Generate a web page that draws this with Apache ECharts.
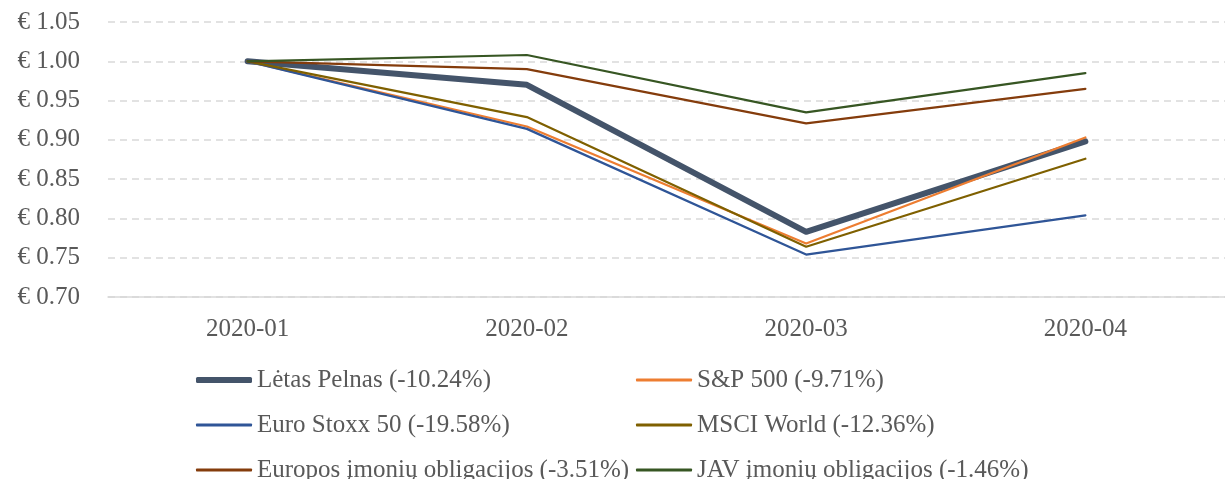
<!DOCTYPE html>
<html>
<head>
<meta charset="utf-8">
<style>
  html, body { margin: 0; padding: 0; background: #fff; }
  #chart { width: 1225px; height: 479px; }
</style>
<script src="https://cdn.jsdelivr.net/npm/echarts@6/dist/echarts.min.js"></script>
</head>
<body>
<div id="chart"></div>
<script>
// categories (months)
const months = ['2020-01', '2020-02', '2020-03', '2020-04']

// portfolio value of 1 € invested
const letasPelnas = [1.000, 0.970, 0.783, 0.898]
const sp500 = [1.000, 0.917, 0.768, 0.903]
const euroStoxx = [1.000, 0.914, 0.754, 0.804]
const msciWorld = [1.000, 0.929, 0.764, 0.876]
const europosObl = [1.000, 0.990, 0.921, 0.965]
const javObl = [1.000, 1.008, 0.935, 0.985]

const seriesNames = [
  'Lėtas Pelnas (-10.24%)',
  'S&P 500 (-9.71%)',
  'Euro Stoxx 50 (-19.58%)',
  'MSCI World (-12.36%)',
  'Europos įmonių obligacijos (-3.51%)',
  'JAV įmonių obligacijos (-1.46%)'
]

const font = '"Liberation Serif", "DejaVu Serif", serif'
const textColor = '#595959'

const mkLine = (name, data, color, width) => ({
  name: name,
  type: 'line',
  data: data,
  symbol: 'none',
  color: color,
  itemStyle: {color: color},
  lineStyle: {color: color, width: width, cap: 'round', join: 'round'},
  emphasis: {disabled: true}
})

// one legend per item so the two columns line up like the original
const mkLegend = (name, left, top, thick) => ({
  left: left,
  top: top,
  padding: 0,
  icon: 'roundRect',
  itemWidth: 56,
  itemHeight: thick,
  selectedMode: false,
  data: [name],
  textStyle: {fontFamily: font, fontSize: 25, color: textColor, lineHeight: 25}
})

const chart = echarts.init(document.getElementById('chart'))
chart.setOption({
  animation: false,
  textStyle: {fontFamily: font},
  grid: {left: 108, top: 22, width: 1128, bottom: 182, containLabel: false},
  legend: [
    mkLegend(seriesNames[0], 196, 367.5, 6),
    mkLegend(seriesNames[1], 636, 367.5, 3),
    mkLegend(seriesNames[2], 196, 412.5, 3),
    mkLegend(seriesNames[3], 636, 412.5, 3),
    mkLegend(seriesNames[4], 196, 457.5, 3),
    mkLegend(seriesNames[5], 636, 457.5, 3)
  ],
  xAxis: {
    type: 'category',
    data: months,
    boundaryGap: true,
    axisTick: {show: false},
    axisLine: {lineStyle: {color: '#d9d9d9', width: 1.5}},
    axisLabel: {fontFamily: font, fontSize: 25, color: textColor, margin: 20}
  },
  yAxis: {
    type: 'value',
    min: 0.7,
    max: 1.05,
    interval: 0.05,
    axisLine: {show: false},
    axisTick: {show: false},
    splitLine: {lineStyle: {color: '#d9d9d9', width: 1.5, type: [7, 5]}},
    axisLabel: {
      fontFamily: font, fontSize: 25, color: textColor, margin: 28,
      formatter: (v) => '€ ' + v.toFixed(2)
    }
  },
  series: [
    mkLine(seriesNames[0], letasPelnas, '#44546A', 6),
    mkLine(seriesNames[1], sp500, '#ED7D31', 2.25),
    mkLine(seriesNames[2], euroStoxx, '#2F5597', 2.25),
    mkLine(seriesNames[3], msciWorld, '#7F6000', 2.25),
    mkLine(seriesNames[4], europosObl, '#843C0C', 2.25),
    mkLine(seriesNames[5], javObl, '#375623', 2.25)
  ]
})
</script>
</body>
</html>
